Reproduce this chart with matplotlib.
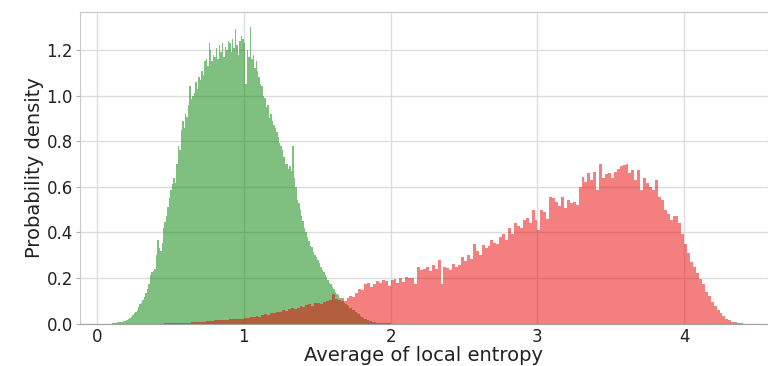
import numpy as np
import matplotlib
matplotlib.use('Agg')
import matplotlib.pyplot as plt

# histogram heights (probability density)
green_start, green_step = 0.10, 0.01
green_density = [
    0.002, 0.003, 0.003, 0.004, 0.005, 0.006, 0.007, 0.008, 0.010, 0.012,
    0.015, 0.018, 0.024, 0.030, 0.036, 0.045, 0.052, 0.060, 0.072, 0.085,
    0.092, 0.105, 0.118, 0.135, 0.150, 0.172, 0.215, 0.228, 0.232, 0.240,
    0.300, 0.365, 0.330, 0.318, 0.352, 0.420, 0.445, 0.470, 0.510, 0.552,
    0.585, 0.610, 0.640, 0.615, 0.700, 0.780, 0.760, 0.850, 0.890, 0.860,
    0.920, 0.905, 0.960, 1.040, 0.985, 1.000, 1.010, 1.060, 1.030, 1.080,
    1.070, 1.110, 1.090, 1.150, 1.160, 1.130, 1.230, 1.200, 1.150, 1.180,
    1.170, 1.210, 1.160, 1.220, 1.190, 1.230, 1.170, 1.215, 1.200, 1.240,
    1.230, 1.190, 1.250, 1.210, 1.290, 1.220, 1.180, 1.240, 1.260, 1.250,
    1.230, 1.050, 1.200, 1.170, 1.300, 1.160, 1.180, 1.120, 1.150, 1.110,
    1.080, 1.050, 1.040, 1.000, 0.990, 0.950, 0.960, 0.900, 0.920, 0.890,
    0.870, 0.860, 0.840, 0.820, 0.790, 0.780, 0.760, 0.730, 0.700, 0.700,
    0.680, 0.690, 0.670, 0.780, 0.640, 0.600, 0.540, 0.530, 0.500, 0.470,
    0.450, 0.420, 0.400, 0.380, 0.360, 0.340, 0.335, 0.315, 0.300, 0.290,
    0.280, 0.265, 0.250, 0.235, 0.225, 0.215, 0.205, 0.190, 0.180, 0.172,
    0.160, 0.150, 0.140, 0.130, 0.125, 0.110, 0.100, 0.100, 0.092, 0.085,
    0.080, 0.075, 0.070, 0.066, 0.060, 0.058, 0.050, 0.045, 0.040, 0.035,
    0.030, 0.026, 0.022, 0.018, 0.015, 0.012, 0.010, 0.008, 0.006, 0.005,
    0.004, 0.003, 0.003, 0.002, 0.002, 0.001, 0.001, 0.001, 0.001, 0.001,
]

red_start, red_step = 0.40, 0.02
red_density = [
    0.000, 0.000, 0.000, 0.001, 0.001, 0.002, 0.002, 0.002, 0.003, 0.003,
    0.004, 0.004, 0.005, 0.006, 0.006, 0.007, 0.008, 0.009, 0.010, 0.012,
    0.014, 0.015, 0.014, 0.017, 0.016, 0.019, 0.018, 0.020, 0.019, 0.022,
    0.025, 0.024, 0.028, 0.027, 0.032, 0.030, 0.036, 0.040, 0.038, 0.045,
    0.048, 0.052, 0.050, 0.058, 0.055, 0.062, 0.066, 0.063, 0.070, 0.075,
    0.072, 0.080, 0.085, 0.078, 0.088, 0.092, 0.086, 0.095, 0.100, 0.105,
    0.130, 0.108, 0.102, 0.110, 0.098, 0.112, 0.122, 0.118, 0.135, 0.150,
    0.145, 0.175, 0.180, 0.160, 0.172, 0.185, 0.178, 0.190, 0.185, 0.165,
    0.190, 0.195, 0.178, 0.200, 0.182, 0.205, 0.200, 0.198, 0.175, 0.248,
    0.235, 0.240, 0.250, 0.232, 0.255, 0.238, 0.278, 0.175, 0.250, 0.245,
    0.235, 0.260, 0.248, 0.255, 0.290, 0.275, 0.300, 0.285, 0.350, 0.320,
    0.300, 0.345, 0.330, 0.340, 0.365, 0.355, 0.348, 0.380, 0.395, 0.365,
    0.420, 0.395, 0.440, 0.430, 0.420, 0.455, 0.465, 0.440, 0.500, 0.455,
    0.410, 0.500, 0.490, 0.460, 0.555, 0.550, 0.535, 0.515, 0.555, 0.505,
    0.540, 0.530, 0.535, 0.520, 0.600, 0.645, 0.620, 0.660, 0.630, 0.665,
    0.585, 0.700, 0.640, 0.655, 0.660, 0.640, 0.665, 0.680, 0.690, 0.695,
    0.700, 0.660, 0.675, 0.630, 0.675, 0.585, 0.640, 0.615, 0.600, 0.585,
    0.630, 0.555, 0.540, 0.500, 0.480, 0.455, 0.470, 0.470, 0.440, 0.395,
    0.350, 0.310, 0.270, 0.250, 0.220, 0.195, 0.175, 0.140, 0.120, 0.095,
    0.075, 0.060, 0.045, 0.035, 0.022, 0.015, 0.008, 0.005, 0.003, 0.001,
]

green_left = green_start + green_step * np.arange(len(green_density))
red_left = red_start + red_step * np.arange(len(red_density))

fig = plt.figure(figsize=(7.68, 3.66), dpi=100)
ax = fig.add_axes([0.104, 0.116, 0.896, 0.852])

ax.bar(green_left, green_density, width=green_step, align='edge',
       color='g', alpha=0.5, linewidth=0)
ax.bar(red_left, red_density, width=red_step, align='edge',
       color='#e80000', alpha=0.5, linewidth=0)

ax.set_xlim(-0.116, 4.57)
ax.set_ylim(0, 1.368)
ax.set_xticks([0, 1, 2, 3, 4])
ax.set_yticks([0.0, 0.2, 0.4, 0.6, 0.8, 1.0, 1.2])
ax.set_yticklabels(['0.0', '0.2', '0.4', '0.6', '0.8', '1.0', '1.2'])
ax.set_axisbelow(True)
ax.grid(True, color='#dddddd', linewidth=1)

for side in ['left', 'top', 'right']:
    ax.spines[side].set_color('#c8c8c8')
ax.spines['bottom'].set_color('#a0a0a0')
ax.tick_params(axis='both', labelsize=12, color='#b0b0b0', length=3,
               labelcolor='#222222')
ax.tick_params(axis='y', pad=2)
ax.tick_params(axis='x', length=0, pad=3)

ax.set_xlabel('Average of local entropy', fontsize=14, labelpad=0, color='#222222')
ax.set_ylabel('Probability density', fontsize=14, labelpad=2, color='#222222')

fig.savefig('out.png', dpi=100)
